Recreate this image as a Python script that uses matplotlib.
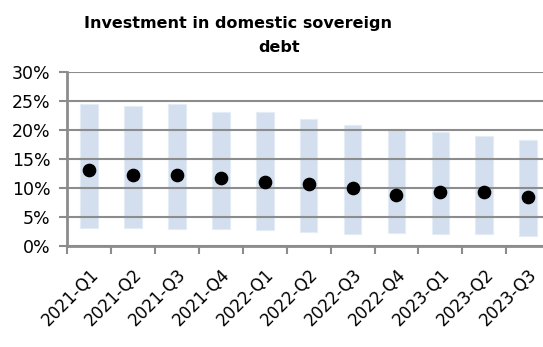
import matplotlib
matplotlib.use("Agg")
import matplotlib.pyplot as plt
import matplotlib.transforms as mtrans
import numpy as np

# data (shares, %)
quarters = ["2021-Q1", "2021-Q2", "2021-Q3", "2021-Q4", "2022-Q1", "2022-Q2",
            "2022-Q3", "2022-Q4", "2023-Q1", "2023-Q2", "2023-Q3"]
range_low = [3.1, 3.1, 2.9, 2.9, 2.7, 2.4, 2.1, 2.2, 2.0, 2.0, 1.7]
range_high = [24.5, 24.2, 24.5, 23.2, 23.1, 21.9, 20.8, 20.1, 19.7, 19.0, 18.2]
median = [13.0, 12.2, 12.2, 11.7, 11.0, 10.6, 9.9, 8.8, 9.2, 9.2, 8.5]

grey = "#8c8c8c"

fig = plt.figure(figsize=(5.43, 3.47), dpi=100)
# plot area runs past the right edge, like the cropped original
ax = fig.add_axes([0.124, 0.292, 0.889, 0.5])

x = np.arange(len(quarters)) + 0.5
low = np.array(range_low)
high = np.array(range_high)
ax.bar(x, high - low, bottom=low, width=0.4, color="#d3dfee",
       edgecolor="#e4ecf6", linewidth=0.8, zorder=1)
ax.scatter(x, median, s=78, color="black", zorder=3)

ax.set_xlim(0, len(quarters))
ax.set_ylim(0, 30)
ax.set_yticks(range(0, 31, 5))
ax.set_yticklabels([f"{v}%" for v in range(0, 31, 5)])
ax.set_xticks(np.arange(len(quarters) + 1))
ax.set_xticklabels([])
ax.set_xticks(x, minor=True)
ax.set_xticklabels(quarters, minor=True, rotation=45, ha="right",
                   rotation_mode="anchor")
# nudge the slanted labels a little to the left
shift = mtrans.ScaledTranslation(-3 / 100, 0, fig.dpi_scale_trans)
for lbl in ax.get_xticklabels(minor=True):
    lbl.set_transform(lbl.get_transform() + shift)

ax.yaxis.grid(True, color=grey, linewidth=1.5, zorder=2)
ax.set_axisbelow(False)
for s in ["top", "right"]:
    ax.spines[s].set_visible(False)
for s in ["left", "bottom"]:
    ax.spines[s].set_color(grey)
    ax.spines[s].set_linewidth(2)
    ax.spines[s].set_zorder(2.5)

ax.tick_params(axis="y", which="major", length=6, width=1.5, color=grey,
               labelsize=12.5, pad=6, direction="out")
ax.tick_params(axis="x", which="major", length=6, width=1.5, color=grey,
               direction="out")
ax.tick_params(axis="x", which="minor", length=0, labelsize=12, pad=14)

fig.text(0.438, 0.919, "Investment in domestic sovereign", ha="center",
         va="baseline", fontsize=11.5, fontweight="bold")
fig.text(0.514, 0.849, "debt", ha="center", va="baseline",
         fontsize=11.5, fontweight="bold")

fig.savefig("out.png", dpi=100)
